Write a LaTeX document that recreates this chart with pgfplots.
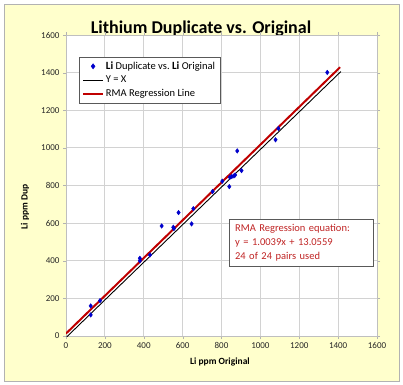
\documentclass[border=0pt]{standalone}
\usepackage{fontspec}
\setmainfont{Carlito}
\usepackage{pgfplots}
\pgfplotsset{compat=1.18}
\definecolor{bgy}{RGB}{255,255,204}
\definecolor{rmared}{RGB}{192,0,0}
\definecolor{txtred}{RGB}{192,36,36}
\definecolor{ptblue}{RGB}{0,0,204}
\begin{document}
\begin{tikzpicture}[x=1pt,y=1pt]
\useasboundingbox (0,0) rectangle (403,384);
\draw[gray!60, fill=bgy, line width=1pt] (4,3) rectangle (399,379);
\node[anchor=base, font=\bfseries\fontsize{18}{20}\selectfont] at (201,351) {Lithium Duplicate vs. Original};
\begin{axis}[
  scale only axis, width=311pt, height=301pt,
  at={(66pt,48pt)}, anchor=south west,
  xmin=0, xmax=1600, ymin=0, ymax=1600,
  xtick={0,200,...,1600}, ytick={0,200,...,1600},
  grid=major, grid style={gray!35, line width=0.8pt},
  axis line style={gray!50},
  tick style={gray!60},
  tick align=outside, major tick length=3pt,
  axis background/.style={fill=white},
  ticklabel style={font=\fontsize{9}{10}\selectfont, text=black!85},
  /pgf/number format/assume math mode=true,
  /pgf/number format/set thousands separator={},
  xlabel={\textbf{Li ppm Original}},
  ylabel={\textbf{Li ppm Dup}},
  label style={font=\fontsize{9.5}{11}\selectfont},
  xlabel style={at={(axis description cs:0.495,-0.0963)}, anchor=base},
  ylabel style={at={(axis description cs:-0.132,0.4286)}, anchor=center},
  legend style={at={(axis description cs:0.042,0.927)}, anchor=north west,
    draw=gray!70!black, font=\fontsize{10.5}{12}\selectfont, row sep=1.2pt,
    inner xsep=3pt, inner ysep=2.5pt,
    /tikz/every even column/.append style={column sep=0pt}},
  legend image post style={scale=1.15},
  legend cell align=left,
]
\addlegendimage{only marks, mark=diamond*, mark size=2.3pt, color=ptblue}
\addlegendentry{\textbf{\fontsize{11}{12}\selectfont Li} Duplicate vs.\ \textbf{\fontsize{11}{12}\selectfont Li} Original}
\addlegendimage{black, line width=0.8pt}
\addlegendentry{Y = X}
\addlegendimage{rmared, line width=2pt}
\addlegendentry{RMA Regression Line}

\addplot[forget plot, black, line width=0.9pt, shift={(0.8pt,-0.8pt)}] coordinates {(0,0) (1410,1410)};
\addplot[forget plot, rmared, line width=2pt] coordinates {(0,13.0559) (1410,1428.55)};
\addplot[forget plot, only marks, mark=diamond*, mark size=2.3pt, color=ptblue] coordinates {
(127,160) (127,112) (175,188) (380,413) (380,400) (432,431)
(492,585) (552,578) (555,571) (579,656) (646,596) (655,677)
(754,768) (804,823) (840,794) (843,844) (853,848) (864,851)
(870,856) (881,984) (903,879) (1093,1103) (1078,1043) (1344,1401)
};
\node[draw=gray!70!black, fill=white, align=left, text=txtred,
  font=\fontsize{10.5}{14}\selectfont, anchor=north west,
  inner xsep=6pt, inner ysep=5pt, text width=132pt]
  at (axis cs:838,622) {RMA Regression equation:\\ y = 1.0039x + 13.0559\\ 24 of 24 pairs used};
\end{axis}
\end{tikzpicture}
\end{document}
